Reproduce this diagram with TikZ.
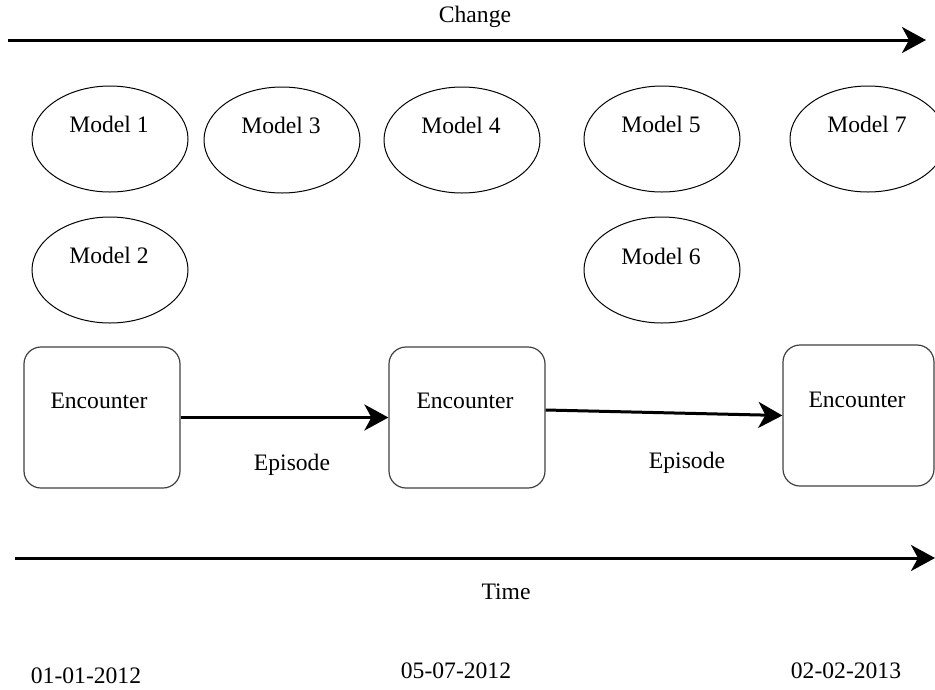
\documentclass[tikz,border=0pt]{standalone}
\usepackage{fontspec}
\setmainfont{Liberation Serif}
\usetikzlibrary{shapes.geometric,arrows.meta}
\tikzset{
  modelshape/.style={draw=black,line width=1pt,ellipse,minimum width=156pt,minimum height=106pt,inner sep=0pt},
  encbox/.style={draw=black!75,line width=1.2pt,rounded corners=17pt,minimum height=141pt,inner sep=0pt},
  txt/.style={inner sep=0pt,font=\fontsize{23.6}{28}\selectfont},
  bigarrow/.style={line width=3pt,-{Stealth[length=24pt,width=26pt,inset=7pt]}},
}
\begin{document}
\begin{tikzpicture}[x=1pt,y=-1pt]
\useasboundingbox (0,0) rectangle (935,689);
\clip (0,0) rectangle (935,689);
% Change arrow
\coordinate (c0) at (8,40);
\coordinate (c1) at (926,40);
\draw[bigarrow] (c0) -- (c1);
\node[txt] (change) at (475,17) {Change};
% models
\node[modelshape] (m1) at (110,139) {};
\node[modelshape] (m3) at (282,140) {};
\node[modelshape] (m4) at (462,140) {};
\node[modelshape] (m5) at (662,139) {};
\node[modelshape] (m7) at (868,139) {};
\node[modelshape] (m2) at (110,270) {};
\node[modelshape] (m6) at (662,270) {};
\node[txt] (m1t) at (109,124) {Model 1};
\node[txt] (m3t) at (281,125) {Model 3};
\node[txt] (m4t) at (461,125) {Model 4};
\node[txt] (m5t) at (661,124) {Model 5};
\node[txt] (m7t) at (867,124) {Model 7};
\node[txt] (m2t) at (109,255) {Model 2};
\node[txt] (m6t) at (661,256) {Model 6};
% encounters
\node[encbox,minimum width=156pt] (b1) at (102,417.5) {};
\node[encbox,minimum width=156pt] (b2) at (467,417.5) {};
\node[encbox,minimum width=151pt] (b3) at (858.5,415.5) {};
\node[txt] (b1t) at (99,401) {Encounter};
\node[txt] (b2t) at (465,401) {Encounter};
\node[txt] (b3t) at (857,400) {Encounter};
\draw[bigarrow] (b1.east) -- (b2.west);
\draw[bigarrow] ([yshift=7.5pt]b2.east) -- (b3.west);
\node[txt] (ep1) at (292,465) {Episode};
\node[txt] (ep2) at (687,463) {Episode};
% Time arrow
\coordinate (t0) at (15,558);
\coordinate (t1) at (935,558);
\draw[bigarrow] (t0) -- (t1);
\node[txt] (time) at (506,592) {Time};
\node[txt] (d1) at (86,676) {01-01-2012};
\node[txt] (d2) at (456,671) {05-07-2012};
\node[txt] (d3) at (846,671) {02-02-2013};
\end{tikzpicture}
\end{document}
